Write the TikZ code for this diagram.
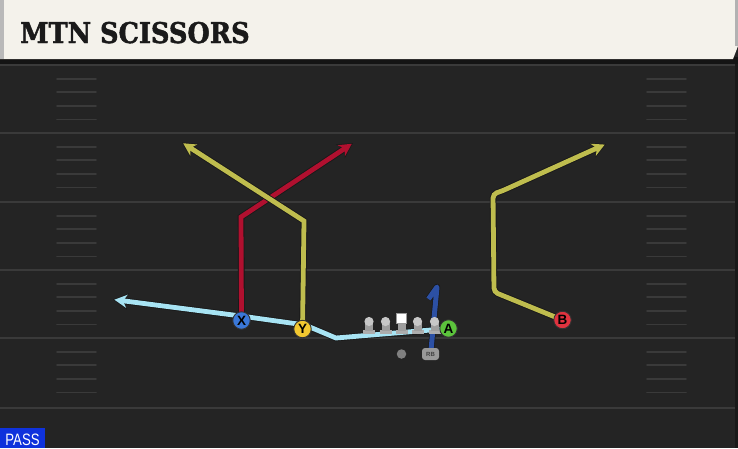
\documentclass[tikz,border=0pt]{standalone}
\usepackage{fontspec}
\setmainfont{Liberation Sans}
\newfontfamily\titlefont[FakeStretch=0.9,FakeBold=1.6]{DejaVu Serif}
\usetikzlibrary{arrows.meta}
\definecolor{fieldbg}{HTML}{242424}
\definecolor{headerbg}{HTML}{F4F2EB}
\definecolor{titlecol}{HTML}{1A1A1A}
\definecolor{yardcol}{HTML}{3A3A3A}
\definecolor{hashcol}{HTML}{3A3A3A}
\definecolor{redroute}{HTML}{B0102F}
\definecolor{olive}{HTML}{BFBD4E}
\definecolor{lightblue}{HTML}{A8E4F4}
\definecolor{rbblue}{HTML}{2C50A4}
\definecolor{pX}{HTML}{3A78D8}
\definecolor{pY}{HTML}{F2C830}
\definecolor{pA}{HTML}{5CC43C}
\definecolor{pB}{HTML}{E0333F}
\definecolor{passblue}{HTML}{0F32DC}
\tikzset{
  yardline/.style={draw=yardcol, line width=2pt},
  hashline/.style={draw=hashcol, line width=1.8pt, line cap=round},
  routeout/.style={draw=black!90, line width=6.6pt, line join=miter, arrows={-{Stealth[length=15pt,width=16pt,inset=4.5pt]}}},
  routein/.style={draw=#1, line width=4.8pt, line join=miter, shorten >=1.4pt, arrows={-{Stealth[length=12.5pt,width=13pt,inset=3.8pt,fill=#1]}}},
  player/.style={circle, draw=black!80, line width=0.9pt, fill=#1, minimum size=17.5pt, inner sep=0pt, font=\fontsize{13.5}{13.5}\selectfont\bfseries, text=black},
}
\begin{document}
\begin{tikzpicture}[x=1pt,y=-1pt]
\useasboundingbox (0,0) rectangle (738,448);
\fill[fieldbg] (0,0) rectangle (738,448);
\fill[black!30!fieldbg] (735,63) rectangle (738,448);
% header
\fill[black!92] (0,57) rectangle (738,64);
\fill[headerbg] (0,0) -- (738,0) -- (738,46) -- (733,59) -- (0,59) -- cycle;
\fill[gray!55] (0,0) rectangle (4,59);
\fill[gray!60] (735,0) rectangle (738,46);
\node[anchor=base west, inner sep=0pt, font=\titlefont\fontsize{28.5}{30}\selectfont\bfseries, text=titlecol] (title) at (20,43) {MTN SCISSORS};
% yard lines and hashes
\foreach \y in {65,133,202,270,338,408} \draw[yardline] (0,\y) -- (735,\y);
\foreach \y in {65,133,202,270,338} \foreach \k in {1,2,3,4} {
  \draw[hashline] (57,\y+\k*13.6) -- (96,\y+\k*13.6);
  \draw[hashline] (647,\y+\k*13.6) -- (686,\y+\k*13.6);
}
% player positions
\coordinate (cX) at (241.5,320.5);
\coordinate (cY) at (302.5,329);
\coordinate (cA) at (448.5,328.5);
\coordinate (cB) at (562.5,320);
\coordinate (cRB) at (430.5,354);
% route ends
\coordinate (xEnd) at (353,143);
\coordinate (yEnd) at (182,142.5);
\coordinate (bEnd) at (606,144);
\coordinate (aEnd) at (113,299.5);
% X route
\draw[routeout] (cX) -- (241,217) -- (xEnd);
\draw[routein=redroute] (cX) -- (241,217) -- (xEnd);
% Y route
\draw[routeout] (cY) -- (304,221) -- (yEnd);
\draw[routein=olive] (cY) -- (304,221) -- (yEnd);
% B route
\draw[routeout, rounded corners=4pt] (cB) -- (494,292) -- (493,194) -- (502,191) -- (bEnd);
\draw[routein=olive, rounded corners=4pt] (cB) -- (494,292) -- (493,194) -- (502,191) -- (bEnd);
% RB route
\draw[draw=black!90, line width=6.4pt, line join=round] (431,350) -- (437,287) -- (428.5,299);
\draw[draw=rbblue, line width=5pt, line join=round] (431,350) -- (437,287) -- (428.5,299);
% A route
\draw[routeout] (cA) -- (336,338) -- (305,325) -- (241,316) -- (aEnd);
\draw[routein=lightblue] (cA) -- (336,338) -- (305,325) -- (241,316) -- (aEnd);
% offensive line
\foreach \x/\n in {369/l1,385.5/l2,417.5/l4,434.5/l5} {
  \fill[black!32!white] (\x-6,330) rectangle (\x+6,334);
  \fill[black!38!white] (\x-4,322) rectangle (\x+4,330.5);
  \fill[black!22!white] (\x,321.5) circle (4.6);
  \coordinate (\n) at (\x,321.5);
}
\fill[black!32!white] (395.5,330) rectangle (407.5,334);
\fill[black!38!white] (397.5,322) rectangle (405.5,330.5);
\node[draw=black!40, line width=0.5pt, fill=white, minimum size=10pt, inner sep=0pt] (C) at (401.5,318.5) {};
% QB and RB
\node[circle, fill=black!50, minimum size=9.5pt, inner sep=0pt] (QB) at (401.5,354) {};
\node[rounded corners=3pt, fill=black!40!white, minimum width=17pt, minimum height=12pt, inner sep=0pt, font=\fontsize{6}{6}\selectfont\bfseries, text=black!75] (RB) at (cRB) {RB};
% players
\node[player=pX] (X) at (cX) {X};
\node[player=pY] (Y) at (cY) {Y};
\node[player=pA] (A) at (cA) {A};
\node[player=pB] (B) at (cB) {B};
% pass label
\fill[passblue] (0,428) rectangle (45,448);
\node[anchor=base, inner sep=0pt, text=white, font=\fontsize{16.5}{17}\selectfont] (pass) at (22.5,445.5) {\scalebox{0.8}[1]{PASS}};
\end{tikzpicture}
\end{document}
